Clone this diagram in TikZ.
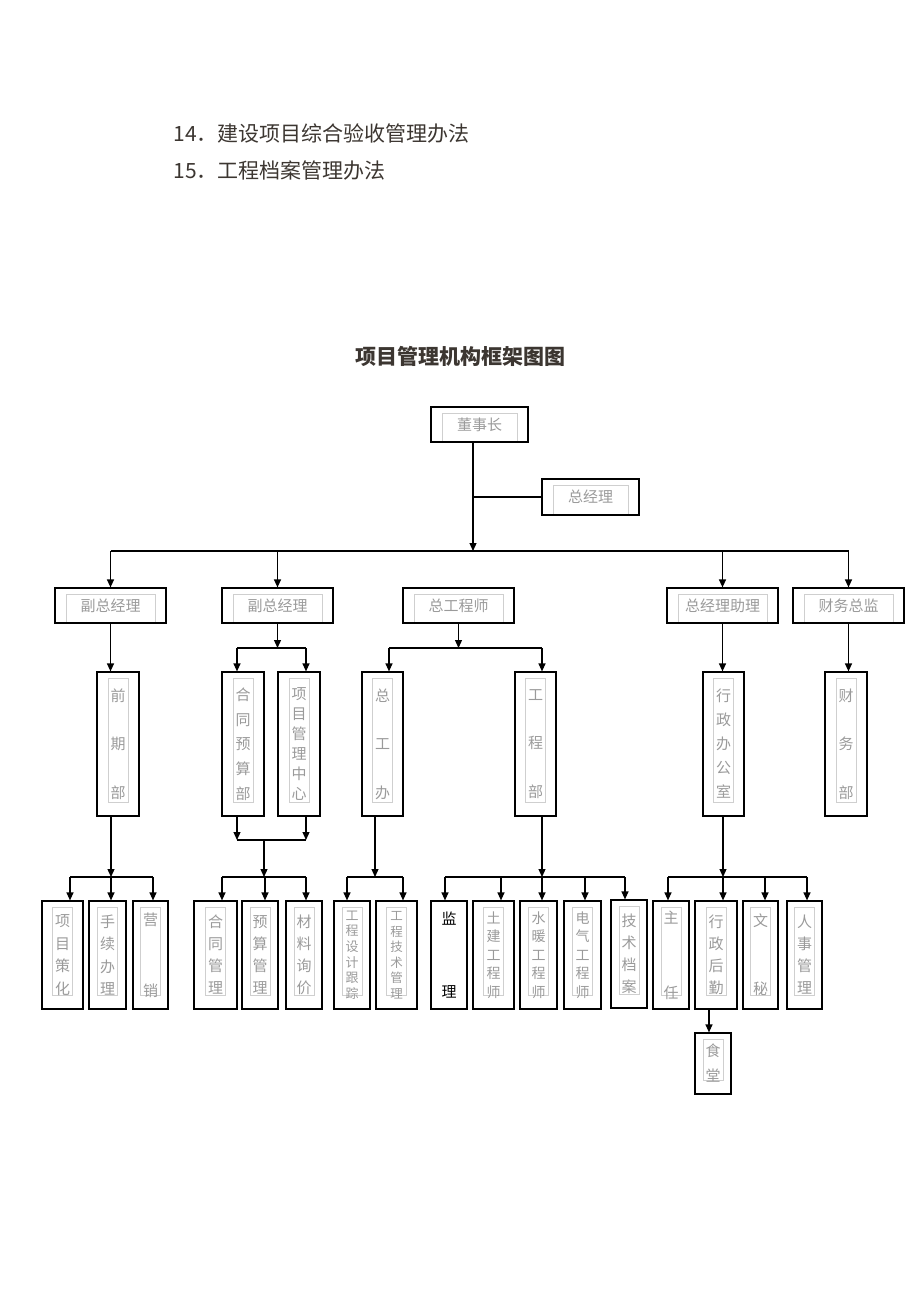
\documentclass[tikz,border=0pt]{standalone}
\usepackage{fontspec}
\setmainfont{Noto Sans CJK SC}
\usetikzlibrary{arrows.meta}

\definecolor{inkdark}{HTML}{3C3631}
\definecolor{labelgray}{HTML}{9A9A9A}
\definecolor{framegray}{HTML}{CFCFCF}

\tikzset{
  link/.style={line width=1.2pt},
  arr/.style={link, -{Triangle[width=7pt,length=8pt]}},
  sk/.style 2 args={font=\fontsize{#1}{#2}\selectfont},
  headbox/.style={draw, line width=1.2pt, minimum height=35pt, inner sep=0pt,
    text=labelgray, sk={15}{18},
    path picture={\draw[framegray, line width=1pt]
      ([xshift=11pt]path picture bounding box.south west)
      |- ([xshift=-11pt,yshift=-6pt]path picture bounding box.north east)
      -- ([xshift=-11pt]path picture bounding box.south east);}},
  colbox/.style={draw, line width=1.2pt, inner sep=0pt, align=center, text=labelgray,
    path picture={\draw[framegray, line width=1pt]
      ([xshift=-10pt,yshift=14pt]path picture bounding box.south)
      rectangle ([xshift=10pt,yshift=-6pt]path picture bounding box.north);}},
  plainbox/.style={draw, line width=1.2pt, inner sep=0pt, align=center},
  rowtall/.style={minimum height=144pt},
  rowshort/.style={minimum height=108pt},
}

\begin{document}
\begin{tikzpicture}[x=1pt,y=-1pt]
\useasboundingbox (0,0) rectangle (920,1302);

% text above the chart
\node[anchor=west, text=inkdark, sk={21}{25}] (item14) at (170,133) {14．建设项目综合验收管理办法};
\node[anchor=west, text=inkdark, sk={21}{25}] (item15) at (170,170) {15．工程档案管理办法};
\node[text=inkdark, font={\fontsize{21}{25}\selectfont\bfseries}] (title) at (460,356) {项目管理机构框架图图};

% top
\node[headbox, minimum width=97pt] (dsz) at (479.5,424.5) {董事长};
\node[headbox, minimum width=97pt, minimum height=36pt] (zjl) at (590.5,497) {总经理};

% second row
\node[headbox, minimum width=111pt] (fz1) at (110.5,605.5) {副总经理};
\node[headbox, minimum width=111pt] (fz2) at (277.5,605.5) {副总经理};
\node[headbox, minimum width=111pt] (zgcs) at (458.5,605.5) {总工程师};
\node[headbox, minimum width=111pt] (zjlzl) at (722.5,605.5) {总经理助理};
\node[headbox, minimum width=111pt] (cwzj) at (848.5,605.5) {财务总监};

% departments
\node[colbox, rowtall, minimum width=42pt, sk={15}{48.5}] (qqb) at (118,744) {前\\期\\部};
\node[colbox, rowtall, minimum width=42pt, sk={15}{24.7}] (htys) at (243,744) {合\\同\\预\\算\\部};
\node[colbox, rowtall, minimum width=42pt, sk={15}{20}] (xmgl) at (299,744) {项\\目\\管\\理\\中\\心};
\node[colbox, rowtall, minimum width=41pt, sk={15}{48.5}] (zgb) at (382.5,744) {总\\工\\办};
\node[colbox, rowtall, minimum width=41pt, sk={15}{48.5}] (gcb) at (535.5,744) {工\\程\\部};
\node[colbox, rowtall, minimum width=41pt, sk={15}{24}] (xzbgs) at (723.5,744) {行\\政\\办\\公\\室};
\node[colbox, rowtall, minimum width=42pt, sk={15}{48.5}] (cwb) at (846,744) {财\\务\\部};

% bottom row
\node[colbox, rowshort, minimum width=41pt, sk={15}{22.5}] (xmch) at (62.5,955) {项\\目\\策\\化};
\node[colbox, rowshort, minimum width=37pt, sk={15}{22.5}] (sxbl) at (107.5,955) {手\\续\\办\\理};
\node[colbox, rowshort, minimum width=35pt, sk={15}{71}] (yx) at (150.5,955) {营\\销};
\node[colbox, rowshort, minimum width=43pt, sk={15}{22}] (htgl) at (215.5,955) {合\\同\\管\\理};
\node[colbox, rowshort, minimum width=36pt, sk={15}{22}] (ysgl) at (260,955) {预\\算\\管\\理};
\node[colbox, rowshort, minimum width=36pt, sk={15}{22}] (clxj) at (304,955) {材\\料\\询\\价};
\node[colbox, rowshort, minimum width=36pt, sk={13}{15.6}] (gcsj) at (352,955) {工\\程\\设\\计\\跟\\踪};
\node[colbox, rowshort, minimum width=41pt, sk={12.5}{15.5}] (gcjs) at (396.5,955) {工\\程\\技\\术\\管\\理};
\node[plainbox, rowshort, minimum width=36pt, sk={15}{73}] (jl) at (449,955) {监\\理};
\node[colbox, rowshort, minimum width=41pt, sk={14}{18.5}] (tjgcs) at (493.5,955) {土\\建\\工\\程\\师};
\node[colbox, rowshort, minimum width=37pt, sk={14}{18.5}] (nngcs) at (538.5,955) {水\\暖\\工\\程\\师};
\node[colbox, rowshort, minimum width=37pt, sk={14}{18.5}] (dqgcs) at (582.5,955) {电\\气\\工\\程\\师};
\node[colbox, rowshort, minimum width=36pt, sk={15}{22}] (jsda) at (629,954) {技\\术\\档\\案};
\node[colbox, rowshort, minimum width=36pt, sk={15}{75}] (zr) at (671,955) {主\\任};
\node[colbox, rowshort, minimum width=42pt, sk={15}{22}] (xzhq) at (716,955) {行\\政\\后\\勤};
\node[colbox, rowshort, minimum width=35pt, sk={15}{68}] (wm) at (760.5,955) {文\\秘};
\node[colbox, rowshort, minimum width=35pt, sk={15}{22}] (rsgl) at (804.5,955) {人\\事\\管\\理};
\node[colbox, minimum height=61pt, minimum width=36pt, sk={15}{25}] (st) at (713,1063.5) {食\\堂};

% top connectors
\coordinate (bus1) at (473,551);
\draw[arr] ([xshift=-6.5pt]dsz.south) -- (bus1);
\draw[link] (bus1 |- zjl.west) -- (zjl.west);
\draw[link] (fz1.north |- bus1) -- (cwzj.north |- bus1);
\foreach \n in {fz1,fz2,zjlzl,cwzj}
  \draw[arr] (\n.north |- bus1) -- (\n.north);

% second row to departments
\draw[arr] (fz1.south) -- (fz1.south |- qqb.north);
\coordinate (j2) at (277.5,648);
\draw[arr] (fz2.south) -- (j2);
\draw[link] ([xshift=-6pt]htys.north |- j2) -- ([xshift=7pt]xmgl.north |- j2);
\draw[arr] ([xshift=-6pt]htys.north |- j2) -- ([xshift=-6pt]htys.north);
\draw[arr] ([xshift=7pt]xmgl.north |- j2) -- ([xshift=7pt]xmgl.north);
\coordinate (j3) at (458.5,648);
\draw[arr] (zgcs.south) -- (j3);
\draw[link] ([xshift=6.5pt]zgb.north |- j3) -- ([xshift=6.5pt]gcb.north |- j3);
\draw[arr] ([xshift=6.5pt]zgb.north |- j3) -- ([xshift=6.5pt]zgb.north);
\draw[arr] ([xshift=6.5pt]gcb.north |- j3) -- ([xshift=6.5pt]gcb.north);
\draw[arr] (zjlzl.south) -- (zjlzl.south |- xzbgs.north);
\draw[arr] (cwzj.south) -- (cwzj.south |- cwb.north);

% departments to bottom row
\coordinate (qqbus) at (111,877);
\draw[arr] ([xshift=-7pt]qqb.south) -- (qqbus);
\draw[link] ([xshift=7.5pt]xmch.north |- qqbus) -- ([xshift=2.5pt]yx.north |- qqbus);
\foreach \n/\s in {xmch/7.5, sxbl/3.5, yx/2.5}
  \draw[arr] ([xshift=\s pt]\n.north |- qqbus) -- ([xshift=\s pt]\n.north);

\coordinate (htmid) at (264,840);
\coordinate (htbus) at (264,877);
\draw[arr] ([xshift=-6pt]htys.south) -- ([xshift=-6pt]htys.south |- htmid);
\draw[arr] ([xshift=7pt]xmgl.south) -- ([xshift=7pt]xmgl.south |- htmid);
\draw[link] ([xshift=-6pt]htys.south |- htmid) -- ([xshift=7pt]xmgl.south |- htmid);
\draw[arr] (htmid) -- (htbus);
\draw[link] ([xshift=6.5pt]htgl.north |- htbus) -- ([xshift=2pt]clxj.north |- htbus);
\foreach \n/\s in {htgl/6.5, ysgl/5, clxj/2}
  \draw[arr] ([xshift=\s pt]\n.north |- htbus) -- ([xshift=\s pt]\n.north);

\coordinate (zgbus) at (375,877);
\draw[arr] ([xshift=-7.5pt]zgb.south) -- (zgbus);
\draw[link] ([xshift=-5pt]gcsj.north |- zgbus) -- ([xshift=6.5pt]gcjs.north |- zgbus);
\foreach \n/\s in {gcsj/-5, gcjs/6.5}
  \draw[arr] ([xshift=\s pt]\n.north |- zgbus) -- ([xshift=\s pt]\n.north);

\coordinate (gcbus) at (542,877);
\draw[arr] ([xshift=6.5pt]gcb.south) -- (gcbus);
\draw[link] ([xshift=-4pt]jl.north |- gcbus) -- ([xshift=-4pt]jsda.north |- gcbus);
\foreach \n/\s in {jl/-4, tjgcs/7.5, nngcs/3.5, dqgcs/2.5, jsda/-4}
  \draw[arr] ([xshift=\s pt]\n.north |- gcbus) -- ([xshift=\s pt]\n.north);

\coordinate (xzbus) at (723,877);
\draw[arr] ([xshift=-0.5pt]xzbgs.south) -- (xzbus);
\draw[link] ([xshift=-3pt]zr.north |- xzbus) -- ([xshift=2.5pt]rsgl.north |- xzbus);
\foreach \n/\s in {zr/-3, xzhq/7, wm/4.5, rsgl/2.5}
  \draw[arr] ([xshift=\s pt]\n.north |- xzbus) -- ([xshift=\s pt]\n.north);
\draw[arr] ([xshift=-7pt]xzhq.south) -- ([xshift=-7pt]xzhq.south |- st.north);

\end{tikzpicture}
\end{document}
